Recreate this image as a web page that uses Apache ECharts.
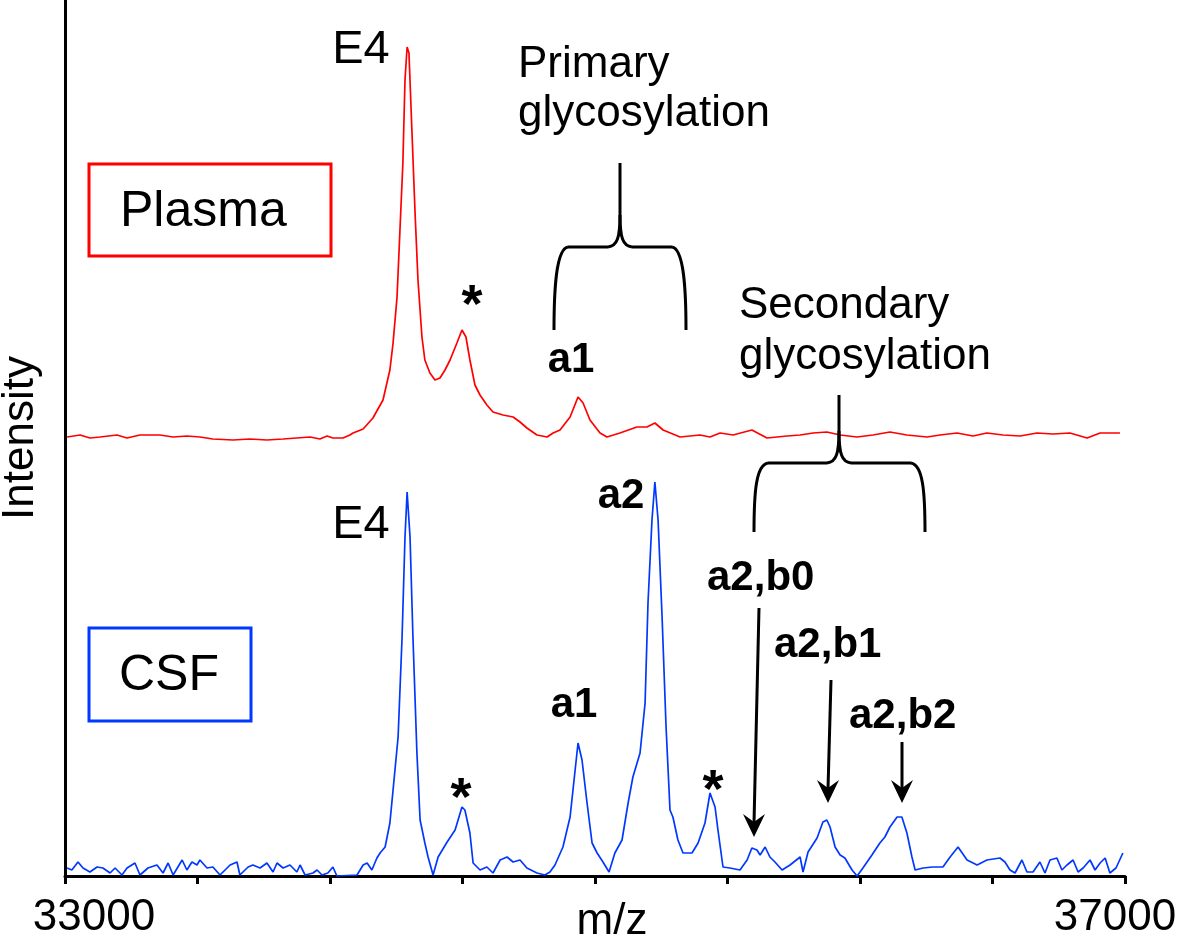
<!DOCTYPE html>
<html>
<head>
<meta charset="utf-8">
<script src="https://cdn.jsdelivr.net/npm/echarts@6/dist/echarts.min.js"></script>
<style>
html,body{margin:0;padding:0;background:#fff;}
#chart{width:1179px;height:942px;}
</style>
</head>
<body>
<div id="chart"></div>
<script>
// ---- data (m/z and intensity, arbitrary units) ----
const xTicks = [33000, 37000];
const plasmaMz = [33008,33057,33094,33132,33196,33234,33283,33358,33408,33460,33509,33558,33634,33698,33762,33823,33925,33962,33989,34011,34049,34075,34087,34125,34162,34200,34226,34238,34253,34264,34275,34283,34291,34298,34309,34321,34332,34347,34358,34377,34396,34415,34434,34453,34479,34498,34513,34528,34547,34566,34592,34615,34653,34691,34717,34743,34781,34819,34842,34868,34906,34936,34955,34981,35019,35045,35094,35158,35196,35226,35257,35321,35396,35434,35472,35521,35592,35649,35725,35774,35823,35875,35925,35989,36049,36113,36177,36253,36302,36366,36426,36479,36540,36604,36668,36728,36792,36857,36906,36981];
const plasmaInt = [7,9,6,7,9,6,9,9,7,8,7,5,4,5,4,5,7,5,8,6,6,9,11,15,26,44,74,101,147,214,281,364,397,391,314,231,164,107,84,71,64,66,74,84,101,114,107,84,59,49,39,32,29,27,22,16,9,7,11,14,27,47,41,24,11,7,11,17,17,21,14,7,9,7,11,9,14,6,8,9,11,12,9,7,9,12,9,7,9,11,8,11,9,8,11,10,11,6,11,11];
const csfMz = [33008,33026,33049,33068,33094,33121,33143,33170,33189,33215,33234,33264,33283,33313,33347,33370,33389,33408,33442,33460,33479,33498,33509,33536,33558,33585,33623,33649,33660,33691,33709,33736,33762,33785,33800,33823,33849,33875,33887,33906,33936,33951,33970,33992,34011,34026,34102,34125,34140,34158,34177,34189,34208,34226,34238,34257,34272,34283,34291,34302,34313,34328,34340,34358,34370,34389,34408,34442,34472,34498,34509,34528,34540,34566,34592,34615,34642,34668,34691,34717,34743,34781,34811,34830,34849,34879,34906,34925,34936,34951,34970,34989,35008,35030,35053,35075,35102,35125,35143,35170,35189,35200,35215,35226,35238,35253,35268,35283,35294,35313,35332,35366,35389,35415,35434,35453,35464,35483,35509,35547,35574,35592,35611,35623,35642,35660,35679,35706,35736,35774,35785,35804,35838,35860,35875,35887,35906,35925,35943,35970,35989,36011,36045,36075,36094,36113,36140,36158,36177,36196,36208,36238,36275,36313,36340,36370,36404,36442,36479,36528,36547,36566,36585,36611,36630,36653,36679,36698,36717,36743,36762,36781,36804,36823,36842,36868,36887,36906,36925,36943,36966,36992];
const csfInt = [8,6,14,8,4,9,8,3,8,1,8,13,1,8,11,3,13,1,16,6,14,11,16,8,9,1,11,14,1,9,11,8,13,4,13,8,11,4,11,1,3,6,1,3,9,0,1,11,13,6,18,23,29,53,86,139,239,339,384,339,239,123,56,33,19,1,19,34,46,69,66,43,13,6,9,3,16,19,14,16,8,3,1,4,11,29,59,106,133,116,73,33,23,14,4,23,36,73,99,123,173,273,356,394,356,260,150,66,59,36,23,23,33,53,83,69,46,9,8,6,16,28,26,21,29,19,14,6,11,19,4,24,38,54,56,49,29,21,18,6,0,8,21,33,39,49,59,59,43,19,6,8,9,9,19,29,16,11,16,18,14,6,3,16,4,4,14,3,16,18,6,11,16,4,8,16,6,13,18,3,8,23];

// ---- layout constants ----
const PLASMA_OFFSET = 432;
const FONT = "'Liberation Sans', Arial, Helvetica, sans-serif";
const RED = '#ff0000';
const BLUE = '#0038ff';

const plasmaData = plasmaMz.map((x, i) => [x, plasmaInt[i] + PLASMA_OFFSET]);
const csfData = csfMz.map((x, i) => [x, csfInt[i]]);

function txt(text, x, y, size, bold, align) {
  return {
    type: 'text', x: x, y: y, z: 10,
    style: {
      text: text,
      font: (bold ? 'bold ' : '') + size + 'px ' + FONT,
      fill: '#000',
      align: align || 'center',
      verticalAlign: 'middle'
    }
  };
}
function arrow(x1, y1, x2, y2) {
  return [
    { type: 'line', z: 10, shape: { x1: x1, y1: y1, x2: x2, y2: y2 - 14 }, style: { stroke: '#000', lineWidth: 3 } },
    { type: 'polygon', z: 10, shape: { points: [[x2, y2], [x2 - 11, y2 - 23], [x2, y2 - 15], [x2 + 11, y2 - 23]] }, style: { fill: '#000' } }
  ];
}
// curly bracket opening downward: legs at xl/xr reaching yb, bar at yBar, tip at (xm, yTop)
function bracket(xl, xr, yb, yBar, xm, yTop) {
  const st = { stroke: '#000', lineWidth: 3, fill: 'none' };
  const r = 12;
  return [
    { type: 'bezierCurve', z: 10, shape: { x1: xl, y1: yb, cpx1: xl, cpy1: yb - 40, cpx2: xl + 2, cpy2: yBar + 2, x2: xl + 14, y2: yBar }, style: st },
    { type: 'line', z: 10, shape: { x1: xl + 14, y1: yBar, x2: xm - r, y2: yBar }, style: st },
    { type: 'bezierCurve', z: 10, shape: { x1: xm - r, y1: yBar, cpx1: xm - 3, cpy1: yBar - 1, cpx2: xm, cpy2: yBar - 9, x2: xm, y2: yBar - 32 }, style: st },
    { type: 'line', z: 10, shape: { x1: xm, y1: yBar - 32, x2: xm, y2: yTop }, style: st },
    { type: 'bezierCurve', z: 10, shape: { x1: xm + r, y1: yBar, cpx1: xm + 3, cpy1: yBar - 1, cpx2: xm, cpy2: yBar - 9, x2: xm, y2: yBar - 32 }, style: st },
    { type: 'line', z: 10, shape: { x1: xm + r, y1: yBar, x2: xr - 14, y2: yBar }, style: st },
    { type: 'bezierCurve', z: 10, shape: { x1: xr, y1: yb, cpx1: xr, cpy1: yb - 40, cpx2: xr - 2, cpy2: yBar + 2, x2: xr - 14, y2: yBar }, style: st }
  ];
}

const graphics = [
  // Plasma
  { type: 'rect', z: 10, shape: { x: 89, y: 164, width: 242, height: 92 }, style: { fill: 'none', stroke: RED, lineWidth: 3 } },
  txt('Plasma', 120, 212, 50, false, 'left'),
  txt('E4', 361, 50, 47, false),
  txt('*', 472, 307, 54, true),
  txt('a1', 571, 360, 42, true),
  txt('Primary', 518, 65, 44, false, 'left'),
  txt('glycosylation', 518, 114, 44, false, 'left'),
  txt('Secondary', 739, 306, 44, false, 'left'),
  txt('glycosylation', 739, 357, 44, false, 'left'),
  // CSF
  { type: 'rect', z: 10, shape: { x: 89, y: 628, width: 162, height: 93 }, style: { fill: 'none', stroke: BLUE, lineWidth: 3 } },
  txt('CSF', 119, 676, 50, false, 'left'),
  txt('E4', 361, 525, 47, false),
  txt('*', 461, 800, 54, true),
  txt('a1', 574, 705, 42, true),
  txt('a2', 621, 496, 42, true),
  txt('*', 713, 792, 54, true),
  txt('a2,b0', 707, 578, 42, true, 'left'),
  txt('a2,b1', 774, 645, 42, true, 'left'),
  txt('a2,b2', 849, 716, 42, true, 'left')
].concat(
  bracket(554, 686, 330, 247, 620, 163),
  bracket(754, 925, 532, 463, 839, 395),
  arrow(759, 608, 754, 837), arrow(831, 680, 828, 803), arrow(902, 742, 902, 803)
);

const chart = echarts.init(document.getElementById('chart'), null, { renderer: 'canvas' });
chart.setOption({
  animation: false,
  backgroundColor: '#fff',
  grid: { left: 65, right: 54, top: 0, bottom: 66, containLabel: false, outerBoundsMode: 'none' },
  xAxis: {
    type: 'value',
    min: 33000, max: 37000, interval: 500,
    name: 'm/z', nameLocation: 'middle', nameGap: 24, nameMoveOverlap: false,
    nameTextStyle: { fontSize: 44, color: '#000', fontFamily: FONT, padding: [0, 0, 0, 34] },
    axisLine: { show: true, lineStyle: { color: '#000', width: 3 } },
    axisTick: { show: true, length: 8, lineStyle: { color: '#000', width: 3 } },
    splitLine: { show: false },
    axisLabel: {
      margin: 20,
      color: '#000', fontSize: 44, fontFamily: FONT,
      showMinLabel: true, showMaxLabel: true,
      formatter: function (v) {
        if (v === xTicks[0]) return '{l|' + v + '}';
        if (v === xTicks[1]) return '{r|' + v + '}';
        return '';
      },
      rich: {
        l: { fontSize: 44, fontFamily: FONT, color: '#000', padding: [0, 0, 0, 58] },
        r: { fontSize: 44, fontFamily: FONT, color: '#000', padding: [0, 20, 0, 0] }
      }
    }
  },
  yAxis: {
    type: 'value',
    min: 0, max: 876,
    name: 'Intensity', nameLocation: 'middle', nameGap: 22, nameMoveOverlap: false,
    nameTextStyle: { fontSize: 44, color: '#000', fontFamily: FONT },
    axisLine: { show: true, onZero: false, lineStyle: { color: '#000', width: 3 } },
    axisTick: { show: false },
    axisLabel: { show: false },
    splitLine: { show: false }
  },
  series: [
    { name: 'Plasma', type: 'line', data: plasmaData, showSymbol: false, lineStyle: { color: RED, width: 1.7 }, itemStyle: { color: RED } },
    { name: 'CSF', type: 'line', data: csfData, showSymbol: false, lineStyle: { color: BLUE, width: 1.7 }, itemStyle: { color: BLUE } }
  ],
  graphic: graphics
});
</script>
</body>
</html>
